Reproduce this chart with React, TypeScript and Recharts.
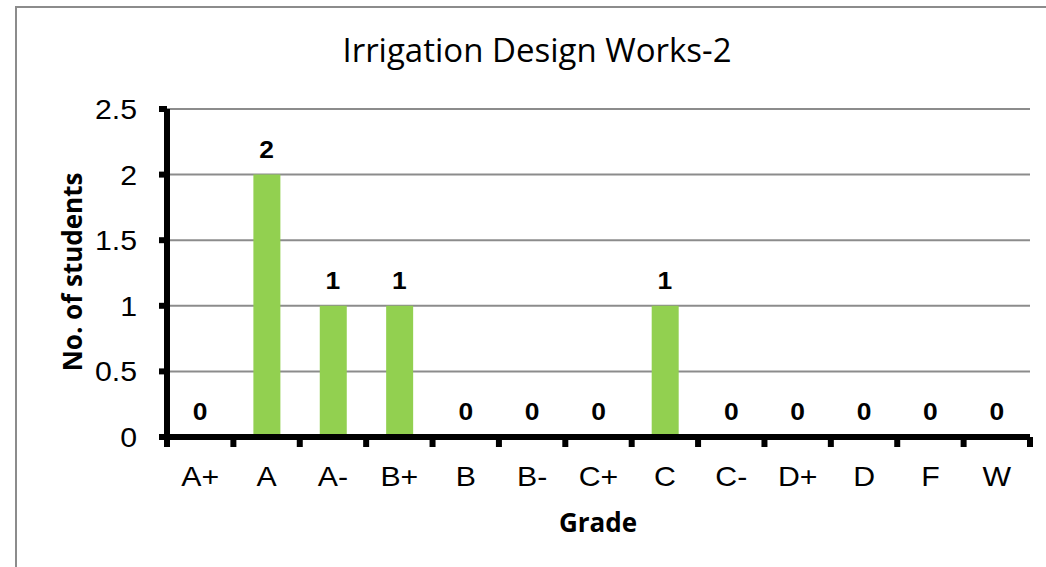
import { ComposedChart, Bar, Line, XAxis, YAxis, CartesianGrid } from 'recharts'

const grades = ['A+', 'A', 'A-', 'B+', 'B', 'B-', 'C+', 'C', 'C-', 'D+', 'D', 'F', 'W']
const students = [0, 2, 1, 1, 0, 0, 0, 1, 0, 0, 0, 0, 0]
const yTicks = [0, 0.5, 1, 1.5, 2, 2.5]

const title = 'Irrigation Design Works-2'
const xTitle = 'Grade'
const yTitle = 'No. of students'

const W = 1046
const H = 567
const MARGIN = { top: 109, right: 16, bottom: 0, left: 0 }
const X_AXIS_H = 130
const Y_AXIS_W = 167
const PLOT_W = W - MARGIN.right - MARGIN.left - Y_AXIS_W
const HALF_BAND = PLOT_W / grades.length / 2

const tickFont = '"Liberation Sans", Arial, sans-serif'
const titleFont = '"Open Sans", "Noto Sans", sans-serif'

const data = grades.map((g, i) => ({ grade: g, students: students[i] }))

function XTick(props: any) {
  const x = Number(props.x)
  const y = Number(props.y)
  const last = props.index === grades.length - 1
  return (
    <g>
      <line x1={x - HALF_BAND} x2={x - HALF_BAND} y1={y} y2={y + 10} stroke="#000" strokeWidth={6} />
      {last && (
        <line x1={x + HALF_BAND} x2={x + HALF_BAND} y1={y} y2={y + 10} stroke="#000" strokeWidth={6} />
      )}
      <text
        transform={`translate(${x},${y + 49}) scale(1.08,1)`}
        textAnchor="middle"
        fontFamily={tickFont}
        fontSize={28}
        fill="#000"
      >
        {props.payload.value}
      </text>
    </g>
  )
}

function YTick(props: any) {
  const x = Number(props.x)
  const y = Number(props.y)
  return (
    <text
      transform={`translate(${x},${y + 10}) scale(1.08,1)`}
      textAnchor="end"
      fontFamily={tickFont}
      fontSize={28}
      fill="#000"
    >
      {String(props.payload.value)}
    </text>
  )
}

// value labels sit above each bar top (also drawn for zero bars)
function ValueLabel(props: any) {
  const x = Number(props.x)
  const y = Number(props.y)
  return (
    <text
      transform={`translate(${x},${y - 17}) scale(1.1,1)`}
      textAnchor="middle"
      fontFamily={tickFont}
      fontWeight="bold"
      fontSize={24}
      fill="#000"
    >
      {props.value}
    </text>
  )
}

export default function App() {
  return (
    <div
      style={{
        position: 'absolute',
        left: 0,
        top: 0,
        width: W,
        height: H,
        overflow: 'hidden',
        background: '#fff',
      }}
    >
      <div
        style={{
          position: 'absolute',
          left: 15,
          top: 6,
          width: 1100,
          height: 700,
          border: '2px solid #8c8c8c',
        }}
      />
      <div style={{ position: 'absolute', left: 0, top: 0 }}>
        <ComposedChart width={W} height={H} data={data} margin={MARGIN}>
          <CartesianGrid vertical={false} stroke="#8c8c8c" strokeWidth={2} />
          <XAxis
            dataKey="grade"
            axisLine={{ stroke: '#000', strokeWidth: 6 }}
            tickLine={false}
            tickSize={0}
            tickMargin={0}
            interval={0}
            height={X_AXIS_H}
            tick={<XTick />}
          />
          <YAxis
            width={Y_AXIS_W}
            domain={[0, 2.5]}
            ticks={yTicks}
            axisLine={{ stroke: '#000', strokeWidth: 6 }}
            tickLine={{ stroke: '#000', strokeWidth: 6 }}
            tickSize={8}
            tickMargin={22}
            tick={<YTick />}
          />
          <Bar dataKey="students" fill="#92d050" barSize={27} isAnimationActive={false} />
          <Line
            dataKey="students"
            stroke="none"
            dot={false}
            activeDot={false}
            legendType="none"
            isAnimationActive={false}
            label={<ValueLabel />}
          />
          <text
            x={537}
            y={62}
            textAnchor="middle"
            fontFamily={titleFont}
            fontSize={33}
            fill="#000"
          >
            {title}
          </text>
          <text
            x={598}
            y={532}
            textAnchor="middle"
            fontFamily={titleFont}
            fontWeight="bold"
            fontSize={26}
            fill="#000"
          >
            {xTitle}
          </text>
          <text
            transform="translate(82,272) rotate(-90)"
            textAnchor="middle"
            fontFamily={titleFont}
            fontWeight="bold"
            fontSize={26}
            fill="#000"
          >
            {yTitle}
          </text>
        </ComposedChart>
      </div>
    </div>
  )
}
